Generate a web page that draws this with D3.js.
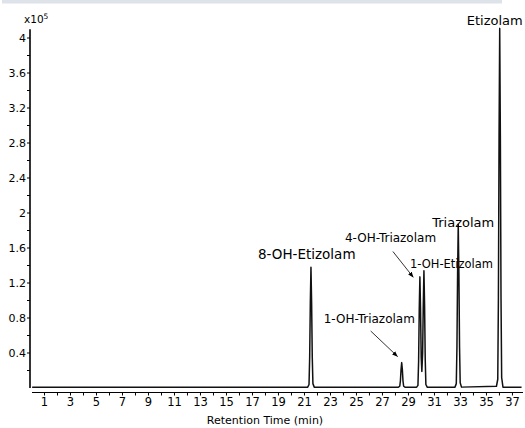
<!DOCTYPE html>
<html>
<head>
<meta charset="utf-8">
<script src="https://cdn.jsdelivr.net/npm/d3@7"></script>
<style>
  html, body { margin: 0; padding: 0; background: #fff; }
  svg { display: block; }
  text { font-family: "DejaVu Sans", Verdana, sans-serif; fill: #000; }
</style>
</head>
<body>
<svg id="chart" width="525" height="428"></svg>
<script>
// ---- data ----
// x ticks (minutes)
const xTickValues = d3.range(1, 38);           // 1..37 (every minute)
const xTickLabels = [1,3,5,7,9,11,13,15,17,19,21,23,25,27,29,31,33,35,37];
// y ticks (x10^5 counts)
const yTickLabels = [0.4,0.8,1.2,1.6,2,2.4,2.8,3.2,3.6,4];
const yMinorTicks = [0.2,0.6,1.0,1.4,1.8,2.2,2.6,3.0,3.4,3.8];

// chromatogram trace: retention time (min), intensity (x10^5)
const traceTime = [
  0.05, 21.25, 21.35, 21.40, 21.45, 21.50, 21.55, 21.60, 21.65, 21.75,
  28.23, 28.33, 28.38, 28.43, 28.48, 28.53, 28.58, 28.63, 28.73,
  29.63, 29.73, 29.78, 29.83, 29.88, 29.93, 29.98, 30.03, 30.09, 30.14, 30.19, 30.24, 30.29, 30.34, 30.44,
  32.58, 32.68, 32.73, 32.78, 32.83, 32.88, 32.93, 32.98, 33.08,
  35.77, 35.87, 35.92, 35.97, 36.02, 36.07, 36.12, 36.17, 36.27, 37.7
];
const traceValue = [
  0.01, 0.01, 0.04, 0.35, 0.97, 1.38, 0.97, 0.35, 0.05, 0.01,
  0.01, 0.02, 0.08, 0.21, 0.29, 0.21, 0.08, 0.02, 0.01,
  0.01, 0.03, 0.30, 0.90, 1.27, 0.90, 0.35, 0.19, 0.40, 0.95, 1.34, 0.95, 0.33, 0.04, 0.01,
  0.01, 0.05, 0.47, 1.31, 1.87, 1.31, 0.47, 0.06, 0.01,
  0.02, 0.10, 1.03, 2.88, 4.11, 2.88, 1.03, 0.12, 0.01, 0.01
];

// peak annotations
const peakNames  = ["8-OH-Etizolam","1-OH-Triazolam","4-OH-Triazolam","1-OH-Etizolam","Triazolam","Etizolam"];
const peakTimes  = [21.5, 28.48, 29.88, 30.19, 32.83, 36.02];
const peakHeights= [1.38, 0.29, 1.27, 1.34, 1.87, 4.11];

// ---- layout ----
const svg = d3.select("#chart");
const x = d3.scaleLinear().domain([0, 37.85]).range([31.5, 523.5]);
const y = d3.scaleLinear().domain([0, 4.1]).range([388, 29.25]);

// top band
svg.append("rect").attr("x", 2).attr("y", 0).attr("width", 500).attr("height", 3.5).attr("fill", "#dde3e8");

// y axis
const gy = svg.append("g").attr("transform", "translate(30,0)");
gy.append("line").attr("x1", 0).attr("x2", 0).attr("y1", y.range()[1]).attr("y2", 388)
  .attr("stroke", "#000").attr("stroke-width", 1.6);
gy.selectAll(".ymaj").data(yTickLabels).join("line")
  .attr("x1", -3).attr("x2", 0).attr("y1", d => y(d)).attr("y2", d => y(d))
  .attr("stroke", "#000").attr("stroke-width", 1);
gy.selectAll(".ymin").data(yMinorTicks).join("line")
  .attr("x1", -3).attr("x2", 0).attr("y1", d => y(d)).attr("y2", d => y(d))
  .attr("stroke", "#000").attr("stroke-width", 1);
gy.selectAll(".ylab").data(yTickLabels).join("text")
  .attr("x", -4).attr("y", d => y(d) + 4)
  .attr("text-anchor", "end").attr("font-size", 11)
  .text(d => d3.format("~g")(d));

// exponent label
const expo = svg.append("text").attr("x", 24).attr("y", 23).attr("font-size", 10.5);
expo.append("tspan").text("x10");
expo.append("tspan").attr("font-size", 7.5).attr("dy", -4).text("5");

// x axis
const gx = svg.append("g").attr("transform", "translate(0,392.5)");
gx.append("line").attr("x1", 32).attr("x2", 523).attr("y1", 0).attr("y2", 0)
  .attr("stroke", "#000").attr("stroke-width", 1);
gx.selectAll(".xt").data(xTickValues).join("line")
  .attr("x1", d => x(d)).attr("x2", d => x(d)).attr("y1", 0).attr("y2", 3)
  .attr("stroke", "#000").attr("stroke-width", 1);
gx.selectAll(".xl").data(xTickLabels).join("text")
  .attr("x", d => x(d)).attr("y", 13.5)
  .attr("text-anchor", "middle").attr("font-size", 11.5)
  .text(d => d);
svg.append("text").attr("x", 265).attr("y", 424).attr("text-anchor", "middle")
  .attr("font-size", 11).text("Retention Time (min)");

// trace
const pts = traceTime.map((t, i) => [t, traceValue[i]]);
const line = d3.line().x(d => x(d[0])).y(d => y(d[1]));
svg.append("path").datum(pts).attr("d", line)
  .attr("fill", "none").attr("stroke", "#111").attr("stroke-width", 1.5)
  .attr("stroke-linejoin", "round");

// arrow marker
const defs = svg.append("defs");
defs.append("marker").attr("id", "arr").attr("viewBox", "0 0 10 10")
  .attr("refX", 10).attr("refY", 5).attr("markerWidth", 7).attr("markerHeight", 7)
  .attr("orient", "auto")
  .append("path").attr("d", "M0,1 L10,5 L0,9 Z").attr("fill", "#000");

// labels
const labelSpec = [
  {name: "8-OH-Etizolam", dx: -53, y: 259, size: 13.5},
  {name: "1-OH-Triazolam", dx: -78, y: 323, size: 12},
  {name: "4-OH-Triazolam", dx: -75, y: 242, size: 12},
  {name: "1-OH-Etizolam", dx: -14, y: 268, size: 11.5},
  {name: "Triazolam", dx: -26, y: 227, size: 13},
  {name: "Etizolam", dx: -33, y: 25, size: 13}
];
labelSpec.forEach(s => {
  const i = peakNames.indexOf(s.name);
  svg.append("text").attr("x", x(peakTimes[i]) + s.dx).attr("y", s.y)
    .attr("font-size", s.size).text(s.name);
});

// arrows: 4-OH-Triazolam and 1-OH-Triazolam
const i4 = peakNames.indexOf("4-OH-Triazolam");
svg.append("line").attr("x1", x(peakTimes[i4]) - 27).attr("y1", 251.5)
  .attr("x2", x(peakTimes[i4]) - 6.5).attr("y2", y(peakHeights[i4]) + 0.5)
  .attr("stroke", "#000").attr("stroke-width", 0.8).attr("marker-end", "url(#arr)");
const i1 = peakNames.indexOf("1-OH-Triazolam");
svg.append("line").attr("x1", x(peakTimes[i1]) - 31).attr("y1", 331)
  .attr("x2", x(peakTimes[i1]) - 4).attr("y2", y(peakHeights[i1]) - 6)
  .attr("stroke", "#000").attr("stroke-width", 0.8).attr("marker-end", "url(#arr)");
</script>
</body>
</html>
